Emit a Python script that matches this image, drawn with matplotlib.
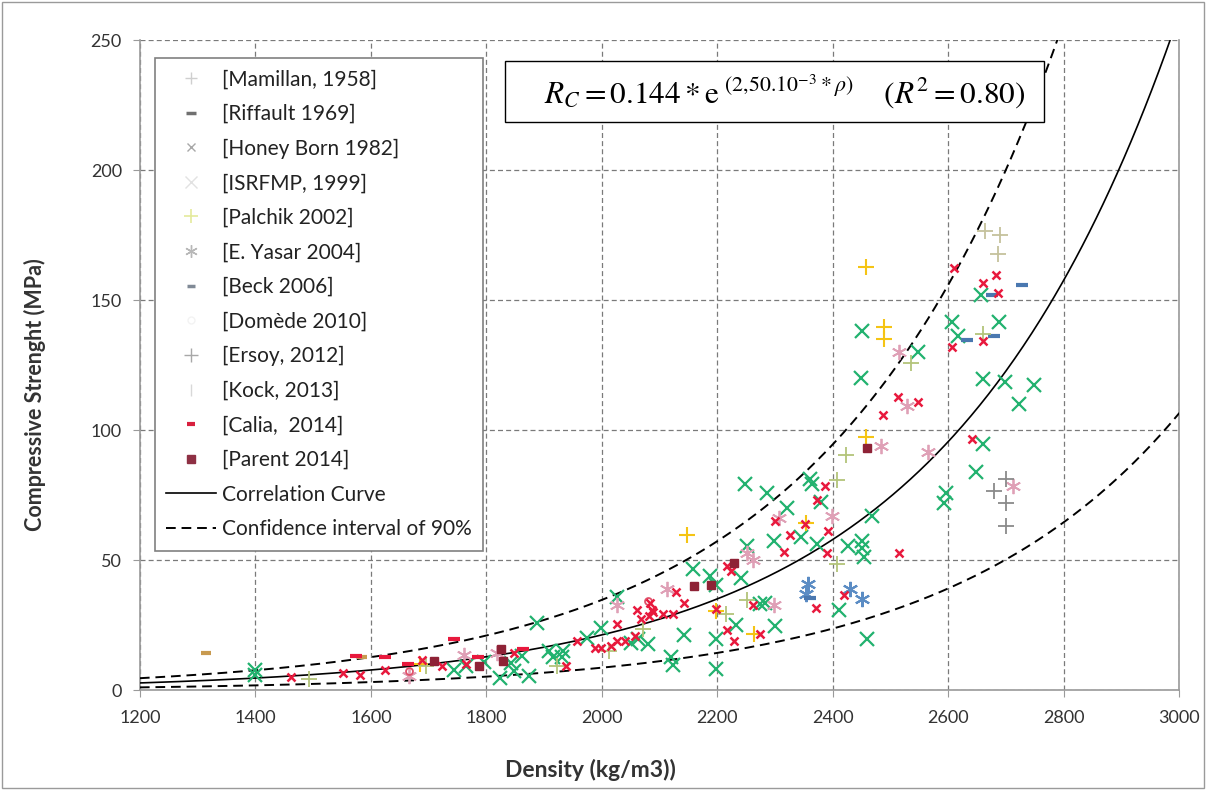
import numpy as np
import matplotlib
matplotlib.use("Agg")
import matplotlib.pyplot as plt
from matplotlib.lines import Line2D
from matplotlib.patches import Rectangle

plt.rcParams['font.family'] = ['Lato', 'DejaVu Sans']
plt.rcParams['mathtext.fontset'] = 'stix'

# ---------------- data ----------------
honey_rho = [1400, 1400, 1743, 1765, 1795, 1823, 1847, 1874, 1843, 1861, 1888, 1909, 1933, 1930, 1916,
             1974, 1999, 2026, 2050, 2062,
             2079, 2120, 2123, 2142, 2198, 2198, 2232, 2299, 2157, 2187, 2198, 2240, 2251, 2282, 2273,
             2248, 2286, 2361, 2364, 2379, 2320, 2298, 2345, 2373, 2426, 2451, 2451, 2454, 2467, 2411,
             2459, 2595, 2592, 2449, 2451, 2548, 2607, 2617, 2657, 2687, 2660, 2698, 2748, 2723, 2660, 2647]
honey_rc = [6, 7.8, 8, 9.5, 11, 4.8, 7.4, 5.4, 10.6, 13.2, 25.8, 15, 15, 13, 13,
            20.3, 24.2, 35.8, 18.3, 19.6,
            17.8, 13, 9.6, 21.2, 8.2, 19.9, 25.3, 24.7, 46.6, 44.2, 40.7, 43.2, 55.5, 33.6, 33.3,
            79.5, 76, 81.5, 79.5, 72.6, 70, 57.5, 58.9, 56.2, 55.5, 57.5, 54.8, 51.4, 67.1, 31.1,
            19.9, 76, 72, 120, 138.4, 130, 141.8, 136.3, 152, 141.8, 119.9, 118.5, 117.4, 110, 94.9, 84]

calia_rho = [1462, 1552, 1581, 1625, 1688, 1723, 1764, 1847, 1937, 1957, 1988, 1999, 2016, 2026, 2040,
             2026, 2057, 2060, 2067,
             2084, 2086, 2081, 2088, 2105, 2123, 2129, 2142, 2198, 2217, 2223, 2217, 2229, 2273, 2261,
             2299, 2351, 2326, 2392, 2315, 2389, 2386, 2373, 2420, 2370, 2515, 2487, 2512, 2547, 2640,
             2607, 2659, 2685, 2660, 2682, 2610]
calia_rc = [5.2, 6.7, 5.8, 8, 11.9, 9.3, 10.3, 14.5, 9.3, 19, 16.4, 16.4, 17, 19, 19,
            25.5, 21, 31, 27.4,
            33.6, 30.8, 28.7, 30, 29.3, 29.3, 38, 33.6, 31.5, 47.9, 45.9, 23.3, 19.2, 21.9, 32.9,
            65, 64, 59.9, 61.2, 53.4, 52.7, 78.8, 73.3, 36.6, 31.8, 53, 105.9, 113, 111, 96.6,
            132.2, 134.2, 153, 156.8, 159.6, 162.3]

calia_dash_rho = [1574, 1624, 1664, 1743, 1785, 1864]
calia_dash_rc = [13.2, 12.8, 10, 19.6, 13, 15.8]

parent_rho = [1709, 1788, 1826, 1828, 2159, 2189, 2229, 2459]
parent_rc = [11.2, 9.3, 15.8, 11.2, 40.1, 40.4, 48.9, 93.4]

isrfmp_rho = [1666, 1761, 1819, 2026, 2112, 2251, 2261, 2298, 2307, 2398, 2514, 2529, 2484, 2564, 2711]
isrfmp_rc = [5.4, 13.8, 14.5, 33, 39, 53, 50, 32.9, 66.4, 67.1, 130, 109.2, 94.1, 91.8, 78.8]

domede_rho = [1666, 2079]
domede_rc = [7.4, 34.5]

yasar_rho = [2357, 2354, 2429, 2451]
yasar_rc = [41, 37, 39, 35]

beck_rho = [2361, 2632, 2679, 2676, 2728]
beck_rc = [35.6, 134.7, 136.3, 152, 155.9]

palchik_rho = [1685, 2148, 2198, 2264, 2354, 2457, 2489, 2489, 2457]
palchik_rc = [10.3, 59.7, 30.5, 21.9, 64.4, 163, 139.7, 135, 97.3]

mamillan_rho = [1492, 1695, 1923, 2012, 2071, 2214, 2251, 2407, 2407, 2422, 2535, 2660]
mamillan_rc = [4.5, 9.3, 9.3, 15, 23.5, 29.5, 34.7, 48.6, 80.8, 90.4, 126, 137]

kock_rho = [2664, 2689, 2686]
kock_rc = [176.7, 175.3, 167.8]

ersoy_rho = [2699, 2679, 2699, 2699]
ersoy_rc = [81.2, 76.7, 72.2, 63.4]

riffault_rho = [1314, 1585]
riffault_rc = [14.5, 13]

# correlation Rc = a * exp(b * rho); confidence factors
corr_a = 0.144
corr_b = 2.50e-3
upper_factor = 1.63
lower_factor = 0.41

legend_labels = ['[Mamillan, 1958]', '[Riffault 1969]', '[Honey Born 1982]', '[ISRFMP, 1999]',
                 '[Palchik 2002]', '[E. Yasar 2004]', '[Beck 2006]', '[Domède 2010]',
                 '[Ersoy, 2012]', '[Kock, 2013]', '[Calia,  2014]', '[Parent 2014]',
                 'Correlation Curve', 'Confidence interval of 90%']

x_ticks = [1200, 1400, 1600, 1800, 2000, 2200, 2400, 2600, 2800, 3000]
y_ticks = [0, 50, 100, 150, 200, 250]

# ---------------- figure ----------------
fig = plt.figure(figsize=(12.06, 7.90), dpi=100)
ax = fig.add_axes([0.116, 0.126, 0.862, 0.823])

fig.patches.append(Rectangle((0.002, 0.003), 0.996, 0.994, transform=fig.transFigure,
                             fill=False, edgecolor='#9a9a9a', linewidth=1.0))

ax.set_xlim(1200, 3000)
ax.set_ylim(0, 250)
ax.set_xticks(x_ticks)
ax.set_yticks(y_ticks)
ax.grid(True, color='#7a7a7a', linestyle=(0, (4, 2.5)), linewidth=0.9)
ax.set_axisbelow(True)
ax.spines['top'].set_visible(False)
for s in ['left', 'bottom', 'right']:
    ax.spines[s].set_color('#9a9a9a')
    ax.spines[s].set_linewidth(1.2)
ax.tick_params(axis='both', direction='out', length=5, color='#9a9a9a', labelsize=13,
               labelcolor='#333333')
ax.tick_params(axis='x', pad=9)
ax.tick_params(axis='y', pad=8)

rho = np.linspace(1200, 3000, 600)
curve = corr_a * np.exp(corr_b * rho)
ax.plot(rho, curve, color='black', lw=1.2, zorder=3)
ax.plot(rho, curve * upper_factor, color='black', lw=1.4, ls=(0, (5, 3)), zorder=3)
ax.plot(rho, curve * lower_factor, color='black', lw=1.4, ls=(0, (5, 3)), zorder=3)

ax.plot(honey_rho, honey_rc, ls='none', marker='x', ms=10, mew=1.6, color='#22b26f', zorder=4)
ax.plot(calia_rho, calia_rc, ls='none', marker='x', ms=6, mew=1.8, color='#e8193d', zorder=5)
ax.plot(calia_dash_rho, calia_dash_rc, ls='none', marker='_', ms=8, mew=3, color='#e8193d', zorder=5)
ax.plot(parent_rho, parent_rc, ls='none', marker='s', ms=6, color='#8e2236', zorder=5)
ax.plot(isrfmp_rho, isrfmp_rc, ls='none', marker=(6, 2, 0), ms=11, mew=1.3, color='#dfa0b6', zorder=4)
ax.plot(domede_rho, domede_rc, ls='none', marker='o', ms=5, mew=1.3, mfc='none', color='#e0506a', zorder=4)
ax.plot(yasar_rho, yasar_rc, ls='none', marker=(6, 2, 0), ms=11, mew=1.5, color='#5b8cc4', zorder=4)
ax.plot(beck_rho, beck_rc, ls='none', marker='_', ms=8, mew=3, color='#4a78b0', zorder=4)
ax.plot(palchik_rho, palchik_rc, ls='none', marker='+', ms=12, mew=1.5, color='#f5c414', zorder=4)
ax.plot(mamillan_rho, mamillan_rc, ls='none', marker='+', ms=12, mew=1.3, color='#b3c47a', zorder=4)
ax.plot(kock_rho, kock_rc, ls='none', marker='+', ms=12, mew=1.3, color='#c5c29c', zorder=4)
ax.plot(ersoy_rho, ersoy_rc, ls='none', marker='+', ms=12, mew=1.3, color='#8a8a8a', zorder=4)
ax.plot(riffault_rho, riffault_rc, ls='none', marker='_', ms=7, mew=3, color='#c89a50', zorder=4)

ax.set_xlabel('Density (kg/m3))', fontsize=16.5, fontweight='bold', color='#333333')
ax.xaxis.set_label_coords(0.433, -0.105)
ax.set_ylabel('Compressive Strenght (MPa)', fontsize=15.5, fontweight='bold', color='#333333')
ax.yaxis.set_label_coords(-0.090, 0.455)

# legend (faded markers as in reference)
handle_styles = [
    dict(marker='+', color='#cfcfcf', ms=9, mew=1.0),
    dict(marker='_', color='#707070', ms=7, mew=2.5),
    dict(marker='x', color='#a8a8a8', ms=6, mew=1.0),
    dict(marker='x', color='#e2e2e2', ms=9, mew=1.0),
    dict(marker='+', color='#e4ea9c', ms=10, mew=1.2),
    dict(marker=(6, 2, 0), color='#b8b8b8', ms=9, mew=1.0),
    dict(marker='_', color='#808a96', ms=6, mew=2.5),
    dict(marker='o', color='#f3f3f3', ms=5, mew=1.0, mfc='none'),
    dict(marker='+', color='#a8a8a8', ms=10, mew=1.0),
    dict(marker='|', color='#d8d8d8', ms=9, mew=1.0),
    dict(marker='_', color='#d8203e', ms=6, mew=3),
    dict(marker='s', color='#8e3044', ms=6),
]
handles = [Line2D([], [], ls='none', **st) for st in handle_styles]
handles.append(Line2D([], [], color='black', lw=1.2))
handles.append(Line2D([], [], color='black', lw=1.4, ls=(0, (5, 3))))
leg = ax.legend(handles, legend_labels, loc='upper left', bbox_to_anchor=(0.0145, 0.973),
                fontsize=15, frameon=True, fancybox=False, edgecolor='#808080', framealpha=1,
                labelspacing=0.70, handlelength=2.4, handletextpad=0.25, borderpad=0.55,
                borderaxespad=0)
leg.get_frame().set_linewidth(1.2)
for t in leg.get_texts():
    t.set_color('#222222')

# formula box
ax.add_patch(Rectangle((0.351, 0.875), 0.519, 0.093, transform=ax.transAxes,
                       fill=True, facecolor='white', edgecolor='black', linewidth=1.0, zorder=6))
ax.text(0.62, 0.921,
        r'$R_C = 0.144 * \mathrm{e}^{\ (2{,}50.10^{-3} * \rho)}\quad\ (R^2 = 0.80)$',
        transform=ax.transAxes, ha='center', va='center', fontsize=22.5, zorder=7)

fig.savefig('out.png', dpi=100)
